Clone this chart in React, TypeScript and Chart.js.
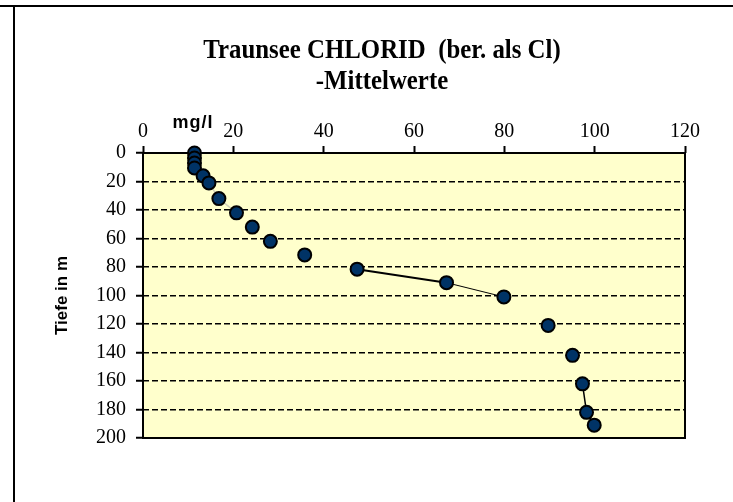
import React, { useEffect, useRef } from "react";
import { Chart, registerables } from "chart.js";

Chart.register(...registerables);

const titleLines = ["Traunsee CHLORID  (ber. als Cl)", "-Mittelwerte"];
const xAxisTitle = "mg/l";
const yAxisTitle = "Tiefe in m";

// chloride mean values (mg/l) and depth (m)
const chloride = [11.4, 11.4, 11.4, 11.4, 13.3, 14.6, 16.8, 20.7, 24.2, 28.2, 35.8, 47.4, 67.2, 79.9, 89.7, 95.1, 97.3, 98.2, 99.9];
const depth = [0, 3.5, 7, 10.5, 16, 21, 32, 42, 52, 62, 71.5, 81.5, 91, 101, 121, 142, 162, 182, 191];

const xTicks = [0, 20, 40, 60, 80, 100, 120];
const yTicks = [0, 20, 40, 60, 80, 100, 120, 140, 160, 180, 200];

// line segment appearance (index = segment starting point)
const segColor = (i: number) => {
  if (i === 5 || i === 6) return "#cfcfb8";
  if (i === 11 || i === 12 || i === 16 || i === 17) return "#000000";
  return "rgba(0,0,0,0)";
};
const segWidth = (i: number) => {
  if (i === 11) return 2;
  if (i === 12) return 1;
  return 1.5;
};

const PLOT_LEFT = 143;
const PLOT_TOP = 153;
const PLOT_RIGHT = 685;
const PLOT_BOTTOM = 438;

const decorPlugin = {
  id: "decor",
  beforeDraw(chart: any) {
    const { ctx, chartArea } = chart;
    ctx.save();
    ctx.fillStyle = "#ffffff";
    ctx.fillRect(0, 0, chart.width, chart.height);
    ctx.fillStyle = "#FFFFCC";
    ctx.fillRect(chartArea.left, chartArea.top, chartArea.right - chartArea.left, chartArea.bottom - chartArea.top);
    // outer frame lines
    ctx.strokeStyle = "#000";
    ctx.lineWidth = 2;
    ctx.beginPath();
    ctx.moveTo(0, 6);
    ctx.lineTo(chart.width, 6);
    ctx.moveTo(14, 6);
    ctx.lineTo(14, chart.height);
    ctx.stroke();
    // title (slightly condensed, tall glyphs)
    ctx.fillStyle = "#000";
    ctx.textAlign = "center";
    ctx.textBaseline = "alphabetic";
    ctx.font = 'bold 27px "Liberation Serif"';
    ctx.save();
    ctx.translate(382, 0);
    ctx.scale(0.92, 1);
    ctx.fillText(titleLines[0], 0, 58);
    ctx.fillText(titleLines[1], 0, 89);
    ctx.restore();
    // axis titles
    ctx.font = 'bold 18px "Liberation Sans"';
    (ctx as any).letterSpacing = "1px";
    ctx.textBaseline = "middle";
    ctx.fillText(xAxisTitle, 193, 123);
    (ctx as any).letterSpacing = "0px";
    ctx.save();
    ctx.translate(62, (chartArea.top + chartArea.bottom) / 2);
    ctx.rotate(-Math.PI / 2);
    ctx.font = 'bold 17px "Liberation Sans"';
    ctx.fillText(yAxisTitle, 0, 0);
    ctx.restore();
    ctx.restore();
  },
  beforeDatasetsDraw(chart: any) {
    const { ctx, chartArea } = chart;
    ctx.save();
    ctx.strokeStyle = "#000";
    ctx.lineWidth = 2;
    ctx.strokeRect(chartArea.left, chartArea.top, chartArea.right - chartArea.left, chartArea.bottom - chartArea.top);
    ctx.restore();
  },
};

export default function App() {
  const ref = useRef<HTMLCanvasElement>(null);
  useEffect(() => {
    if (!ref.current) return;
    const chart = new Chart(ref.current, {
      type: "scatter",
      data: {
        datasets: [
          {
            label: "Chlorid",
            data: chloride.map((v, i) => ({ x: v, y: depth[i] })),
            showLine: true,
            borderColor: "#000",
            borderWidth: 1.5,
            segment: {
              borderColor: (c: any) => segColor(c.p0DataIndex),
              borderWidth: (c: any) => segWidth(c.p0DataIndex),
            },
            pointRadius: 6.5,
            pointHoverRadius: 6.5,
            pointBackgroundColor: "#003366",
            pointBorderColor: "#000",
            pointBorderWidth: 2,
            clip: false as any,
          } as any,
        ],
      },
      options: {
        animation: false,
        responsive: false,
        maintainAspectRatio: false,
        layout: { padding: { left: 0, top: 0, right: 733 - PLOT_RIGHT, bottom: 502 - PLOT_BOTTOM } },
        plugins: { legend: { display: false }, tooltip: { enabled: false }, title: { display: false } },
        scales: {
          x: {
            type: "linear",
            position: "top",
            min: 0,
            max: 120,
            afterBuildTicks: (s: any) => {
              s.ticks = xTicks.map((v) => ({ value: v }));
            },
            afterFit: (s: any) => {
              s.height = PLOT_TOP;
            },
            ticks: {
              color: "#000",
              padding: 2,
              maxRotation: 0,
              font: { family: '"Liberation Serif"', size: 20 },
            },
            grid: {
              drawOnChartArea: false,
              drawTicks: true,
              tickLength: 7,
              tickColor: "#000",
              tickWidth: 2,
            },
            border: { display: false },
          },
          y: {
            type: "linear",
            reverse: true,
            min: 0,
            max: 200,
            afterBuildTicks: (s: any) => {
              s.ticks = yTicks.map((v) => ({ value: v }));
            },
            afterFit: (s: any) => {
              s.width = PLOT_LEFT;
            },
            ticks: {
              color: "#000",
              padding: 10,
              font: { family: '"Liberation Serif"', size: 20 },
            },
            grid: {
              color: "#000",
              lineWidth: 1.5,
              tickLength: 7,
              tickColor: "#000",
              tickWidth: 2,
              tickBorderDash: [],
            } as any,
            border: { display: false, dash: [6, 3] },
          },
        },
      },
      plugins: [decorPlugin],
    });
    return () => chart.destroy();
  }, []);
  return (
    <div style={{ position: "absolute", left: 0, top: 0, width: 733, height: 502 }}>
      <canvas ref={ref} width={733} height={502} style={{ display: "block", width: 733, height: 502 }} />
    </div>
  );
}
